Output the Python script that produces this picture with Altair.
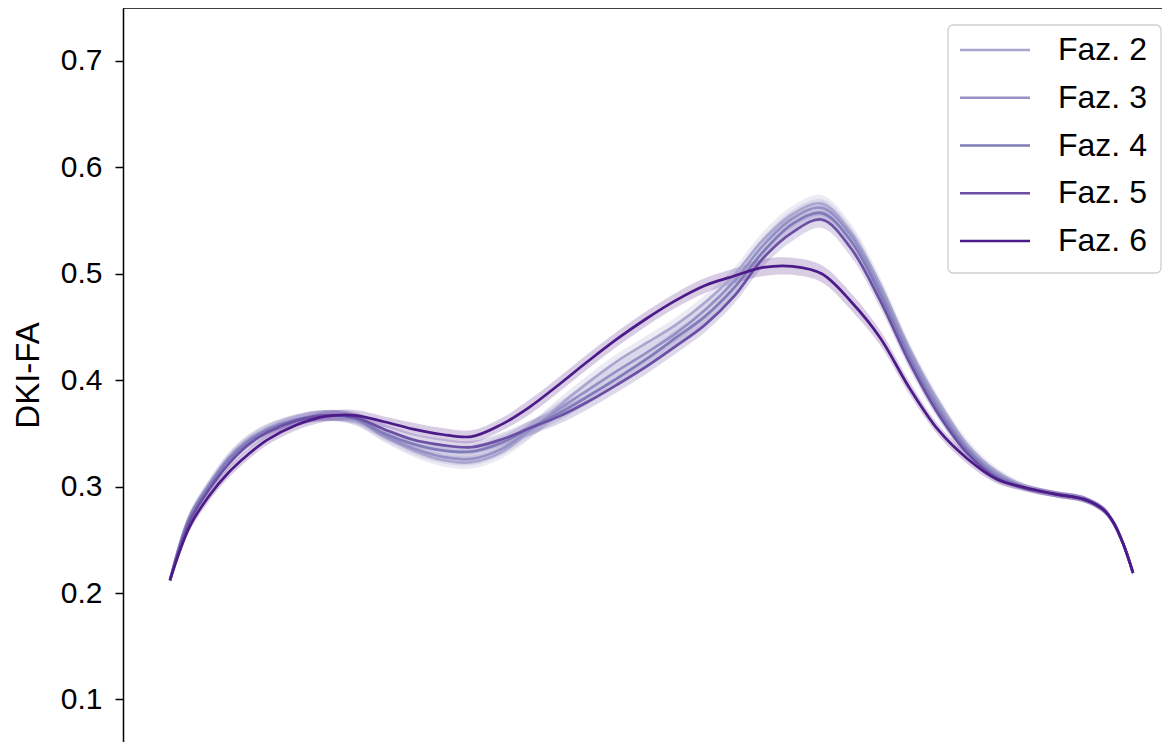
import altair as alt
import pandas as pd

series = ["Faz. 2", "Faz. 3", "Faz. 4", "Faz. 5", "Faz. 6"]
colors = ["#a9a6cf", "#9591c6", "#807bb9", "#6a4fa5", "#4c1a89"]

nodes = [0, 2, 4, 6, 8, 10, 13, 16, 19, 22, 25, 28, 31, 34, 37, 40, 43, 46, 49,
         52, 55, 58, 61, 64, 67, 70, 73, 76, 79, 82, 85, 88, 91, 94, 96, 97, 98, 99]

faz2 = [0.212, 0.272, 0.302, 0.327, 0.344, 0.354, 0.363, 0.367, 0.363, 0.347,
        0.334, 0.325, 0.323, 0.332, 0.352, 0.376, 0.398, 0.418, 0.435, 0.452,
        0.473, 0.499, 0.532, 0.556, 0.566, 0.539, 0.490, 0.430, 0.380, 0.339,
        0.314, 0.300, 0.293, 0.288, 0.278, 0.266, 0.246, 0.219]
faz3 = [0.212, 0.271, 0.301, 0.326, 0.343, 0.354, 0.363, 0.367, 0.363, 0.348,
        0.336, 0.328, 0.326, 0.335, 0.353, 0.373, 0.391, 0.409, 0.426, 0.444,
        0.466, 0.493, 0.527, 0.552, 0.562, 0.536, 0.486, 0.427, 0.376, 0.336,
        0.312, 0.299, 0.293, 0.288, 0.278, 0.266, 0.246, 0.219]
faz4 = [0.212, 0.270, 0.300, 0.325, 0.342, 0.353, 0.363, 0.367, 0.364, 0.350,
        0.340, 0.334, 0.333, 0.341, 0.355, 0.369, 0.385, 0.402, 0.420, 0.440,
        0.460, 0.487, 0.521, 0.547, 0.557, 0.531, 0.481, 0.422, 0.372, 0.334,
        0.310, 0.299, 0.293, 0.288, 0.278, 0.266, 0.246, 0.219]
faz5 = [0.212, 0.267, 0.297, 0.321, 0.339, 0.351, 0.362, 0.367, 0.365, 0.354,
        0.344, 0.339, 0.337, 0.344, 0.355, 0.366, 0.380, 0.396, 0.413, 0.432,
        0.452, 0.479, 0.515, 0.539, 0.551, 0.524, 0.475, 0.417, 0.368, 0.331,
        0.308, 0.298, 0.293, 0.288, 0.278, 0.266, 0.246, 0.219]
faz6 = [0.212, 0.262, 0.291, 0.313, 0.330, 0.344, 0.358, 0.366, 0.367, 0.361,
        0.354, 0.349, 0.347, 0.358, 0.375, 0.396, 0.418, 0.439, 0.458, 0.475,
        0.489, 0.498, 0.506, 0.507, 0.500, 0.474, 0.440, 0.393, 0.353, 0.326,
        0.307, 0.299, 0.293, 0.288, 0.278, 0.266, 0.246, 0.219]

# half-width of the shaded confidence band
band = [0.002, 0.004, 0.005, 0.005, 0.005, 0.005, 0.005, 0.005, 0.005, 0.005,
        0.006, 0.006, 0.006, 0.006, 0.007, 0.007, 0.007, 0.007, 0.007, 0.007,
        0.007, 0.007, 0.008, 0.008, 0.008, 0.008, 0.007, 0.006, 0.005, 0.005,
        0.004, 0.003, 0.003, 0.003, 0.003, 0.003, 0.003, 0.002]

y_ticks = [0.1, 0.2, 0.3, 0.4, 0.5, 0.6, 0.7]

rows = []
for name, vals in zip(series, [faz2, faz3, faz4, faz5, faz6]):
    for n, v, b in zip(nodes, vals, band):
        rows.append({"node": n, "fa": v, "lo": v - b, "hi": v + b, "faz": name})
df = pd.DataFrame(rows)
legend_df = pd.DataFrame({"faz": series})

W, H = 1039, 734
xscale = alt.Scale(domain=[-4.83, 101.98], nice=False, zero=False)
yscale = alt.Scale(domain=[0.0600, 0.7498], nice=False, zero=False)
cscale = alt.Scale(domain=series, range=colors)
FONT = "Liberation Sans"
INTERP = "catmull-rom"

base = alt.Chart(df)

areas = base.mark_area(opacity=0.22, interpolate=INTERP).encode(
    x=alt.X("node:Q", scale=xscale, axis=None),
    y=alt.Y("lo:Q", scale=yscale, axis=None),
    y2="hi:Q",
    fill=alt.Fill("faz:N", scale=cscale, legend=None),
    detail="faz:N",
)

lines = base.mark_line(strokeWidth=2.7, interpolate=INTERP).encode(
    x=alt.X("node:Q", scale=xscale, axis=None),
    y=alt.Y(
        "fa:Q",
        scale=yscale,
        axis=alt.Axis(
            title="DKI-FA",
            values=y_ticks,
            format=".1f",
            grid=False,
            labelFontSize=30,
            labelFont=FONT,
            labelColor="black",
            labelPadding=13,
            tickSize=8,
            tickWidth=1.5,
            tickColor="black",
            domainColor="black",
            domainWidth=1.5,
            titleFontSize=33,
            titleFont=FONT,
            titleFontWeight="normal",
            titleColor="black",
            titlePadding=15,
        ),
    ),
    color=alt.Color("faz:N", scale=cscale, legend=None),
)

top_border = alt.Chart(pd.DataFrame({"k": [0]})).mark_rule(
    color="black", strokeWidth=1.5
).encode(x=alt.value(0), x2=alt.value(W), y=alt.value(0))

# legend, drawn from the series names
legend_y = alt.Scale(type="point", domain=series, range=[42, 233], padding=0)

legend_box = alt.Chart(pd.DataFrame({"k": [0]})).mark_rect(
    fill="white", stroke="#cfcfcf", strokeWidth=1.3, cornerRadius=5
).encode(x=alt.value(825), x2=alt.value(1038), y=alt.value(17), y2=alt.value(265))

legend_lines = alt.Chart(legend_df).mark_rule(strokeWidth=2.7).encode(
    y=alt.Y("faz:N", scale=legend_y, axis=None),
    x=alt.value(837),
    x2=alt.value(907),
    color=alt.Color("faz:N", scale=cscale, legend=None),
)

legend_text = alt.Chart(legend_df).mark_text(
    align="left", baseline="middle", fontSize=32, font=FONT, color="black"
).encode(
    y=alt.Y("faz:N", scale=legend_y, axis=None),
    x=alt.value(935),
    text="faz:N",
)

chart = (
    alt.layer(areas, lines, top_border, legend_box, legend_lines, legend_text)
    .resolve_scale(y="independent")
    .properties(
        width=W,
        height=H,
        autosize=alt.AutoSizeParams(type="none"),
        padding={"left": 115, "top": 0, "right": 0, "bottom": 0},
        background="white",
    )
    .configure_view(stroke=None)
)

chart.save("out.html", embed_options={"renderer": "svg", "actions": False})
